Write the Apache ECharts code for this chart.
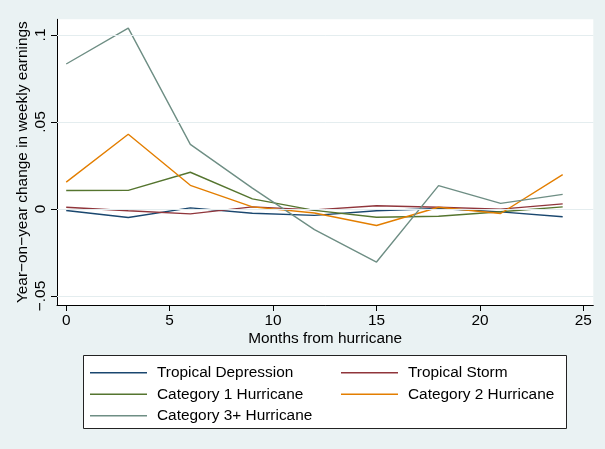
<!DOCTYPE html>
<html>
<head>
<meta charset="utf-8">
<script src="https://cdn.jsdelivr.net/npm/echarts@6/dist/echarts.min.js"></script>
<style>
  html, body { margin: 0; padding: 0; background: #eaf2f3; }
  #chart { width: 605px; height: 449px; }
</style>
</head>
<body>
<div id="chart"></div>
<script>
// Months since landfall at which earnings changes are measured
const months = [0, 3, 6, 9, 12, 15, 18, 21, 24];

// Year-on-year change in weekly earnings, by storm strength
const tropicalDepression = [-0.0009, -0.0049, 0.0006, -0.0025, -0.0037, -0.0010, 0.0003, -0.0017, -0.0045];
const tropicalStorm      = [0.0010, -0.0010, -0.0028, 0.0012, -0.0005, 0.0018, 0.0010, -0.0001, 0.0029];
const category1          = [0.0106, 0.0107, 0.0211, 0.0058, -0.0008, -0.0048, -0.0042, -0.0016, 0.0012];
const category2          = [0.0154, 0.0429, 0.0136, 0.0012, -0.0023, -0.0095, 0.0010, -0.0026, 0.0197];
const category3plus      = [0.0833, 0.1039, 0.0371, 0.0120, -0.0119, -0.0305, 0.0134, 0.0032, 0.0084];

const seriesNames = ['Tropical Depression', 'Tropical Storm', 'Category 1 Hurricane',
                     'Category 2 Hurricane', 'Category 3+ Hurricane'];
const seriesValues = [tropicalDepression, tropicalStorm, category1, category2, category3plus];
const seriesColors = ['#1a476f', '#90353b', '#55752f', '#e37e00', '#6e8e84'];

// Axis ticks and their printed labels
const xTicks = [0, 5, 10, 15, 20, 25];
const yTicks = [-0.05, 0, 0.05, 0.1];
const yTickLabels = ['\u2212.05', '0', '.05', '.1'];

const FONT = '"Liberation Sans", Arial, sans-serif';
const FS = 15.4;
const chart = echarts.init(document.getElementById('chart'), null, { renderer: 'canvas' });

const lineSeries = seriesNames.map((name, i) => ({
  name: name,
  type: 'line',
  data: months.map((m, j) => [m, seriesValues[i][j]]),
  showSymbol: false,
  symbol: 'none',
  lineStyle: { color: seriesColors[i], width: 1.4 },
  itemStyle: { color: seriesColors[i] },
  z: 3,
  silent: true
}));

// Horizontal grid lines at the labelled y values
const gridSeries = {
  name: 'grid',
  type: 'line',
  data: [],
  z: 1,
  silent: true,
  markLine: {
    silent: true,
    symbol: ['none', 'none'],
    label: { show: false },
    lineStyle: { color: '#e4edef', type: 'solid', width: 1 },
    data: yTicks.map(v => ({ yAxis: v }))
  }
};

const legendBase = {
  orient: 'vertical',
  icon: 'rect',
  itemWidth: 57,
  itemHeight: 1.5,
  itemGap: 0,
  selectedMode: false,
  textStyle: { color: '#000', fontSize: FS, fontFamily: FONT, lineHeight: 21.5, padding: [0, 0, 0, 5] },
  padding: 0
};

chart.setOption({
  backgroundColor: '#eaf2f3',
  animation: false,
  grid: {
    left: 57, right: 11.7, top: 19.3, bottom: 144,
    show: true, backgroundColor: '#ffffff', borderWidth: 0,
    containLabel: false
  },
  xAxis: {
    type: 'value',
    min: -0.445,
    max: 25.48,
    name: 'Months from hurricane',
    nameLocation: 'middle',
    nameGap: 26,
    nameMoveOverlap: false,
    nameTextStyle: { color: '#000', fontSize: FS, fontFamily: FONT },
    axisLine: { show: true, onZero: false, lineStyle: { color: '#000', width: 1 } },
    axisTick: { show: true, length: 6, lineStyle: { color: '#000' }, customValues: xTicks },
    axisLabel: { color: '#000', fontSize: FS, fontFamily: FONT, margin: 8, customValues: xTicks,
                 showMinLabel: true, showMaxLabel: true },
    splitLine: { show: false }
  },
  yAxis: {
    type: 'value',
    min: -0.0552,
    max: 0.109,
    name: 'Year\u2212on\u2212year change in weekly earnings',
    nameLocation: 'middle',
    nameGap: 27,
    nameMoveOverlap: false,
    nameTextStyle: { color: '#000', fontSize: FS, fontFamily: FONT },
    axisLine: { show: true, onZero: false, lineStyle: { color: '#000', width: 1 } },
    axisTick: { show: true, length: 6, lineStyle: { color: '#000' }, customValues: yTicks },
    axisLabel: {
      color: '#000', fontSize: FS, fontFamily: FONT, margin: 9, rotate: 90,
      customValues: yTicks,
      formatter: function (v) {
        for (let i = 0; i < yTicks.length; i++) {
          if (Math.abs(v - yTicks[i]) < 1e-9) return yTickLabels[i];
        }
        return '';
      }
    },
    splitLine: { show: false }
  },
  legend: [
    Object.assign({}, legendBase, {
      left: 90, top: 362,
      data: [seriesNames[0], seriesNames[2], seriesNames[4]]
    }),
    Object.assign({}, legendBase, {
      left: 341, top: 362,
      data: [seriesNames[1], seriesNames[3]]
    })
  ],
  graphic: [{
    type: 'rect',
    z: 0,
    shape: { x: 83.5, y: 355.5, width: 483, height: 73 },
    style: { fill: '#ffffff', stroke: '#222', lineWidth: 1 },
    silent: true
  }],
  series: [gridSeries].concat(lineSeries)
});
</script>
</body>
</html>
